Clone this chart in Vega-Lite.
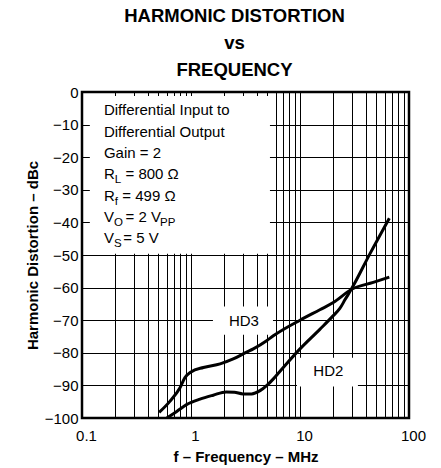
{
  "$schema": "https://vega.github.io/schema/vega-lite/v6.json",
  "width": 327,
  "height": 326,
  "autosize": {"type": "none"},
  "padding": {"left": 82, "top": 92, "right": 32, "bottom": 50},
  "background": "white",
  "config": {
    "font": "Liberation Sans",
    "view": {"stroke": "#000", "strokeWidth": 2.5},
    "axis": {
      "grid": true, "gridColor": "#000", "gridOpacity": 1, "gridWidth": 1,
      "domain": false, "ticks": false,
      "labelFont": "Liberation Sans", "labelFontSize": 15, "labelColor": "#000",
      "titleFont": "Liberation Sans", "titleFontSize": 15, "titleFontWeight": "bold", "titleColor": "#000"
    }
  },
  "title": {
    "text": ["HARMONIC DISTORTION", "vs", "FREQUENCY"],
    "font": "Liberation Sans", "fontSize": 18.5, "fontWeight": "bold", "lineHeight": 27,
    "color": "#000", "anchor": "middle", "offset": 6, "dx": -11
  },
  "datasets": {
    "curves": [
      {"series": "HD3", "f": 0.51, "db": -98.3},
      {"series": "HD3", "f": 0.64, "db": -94.9},
      {"series": "HD3", "f": 0.79, "db": -90.8},
      {"series": "HD3", "f": 0.88, "db": -87.6},
      {"series": "HD3", "f": 1.0, "db": -85.9},
      {"series": "HD3", "f": 1.3, "db": -84.5},
      {"series": "HD3", "f": 1.85, "db": -83.4},
      {"series": "HD3", "f": 2.44, "db": -81.9},
      {"series": "HD3", "f": 3.24, "db": -79.8},
      {"series": "HD3", "f": 3.73, "db": -78.8},
      {"series": "HD3", "f": 4.94, "db": -76.3},
      {"series": "HD3", "f": 5.69, "db": -74.8},
      {"series": "HD3", "f": 10, "db": -70.0},
      {"series": "HD3", "f": 15.2, "db": -66.8},
      {"series": "HD3", "f": 20.2, "db": -64.6},
      {"series": "HD3", "f": 29.8, "db": -60.5},
      {"series": "HD3", "f": 47, "db": -58.4},
      {"series": "HD3", "f": 66, "db": -56.8},
      {"series": "HD2", "f": 0.6, "db": -100},
      {"series": "HD2", "f": 0.74, "db": -98.0},
      {"series": "HD2", "f": 0.91, "db": -95.9},
      {"series": "HD2", "f": 1.21, "db": -94.2},
      {"series": "HD2", "f": 1.6, "db": -93.0},
      {"series": "HD2", "f": 2.1, "db": -92.0},
      {"series": "HD2", "f": 2.5, "db": -92.1},
      {"series": "HD2", "f": 3.0, "db": -92.6},
      {"series": "HD2", "f": 3.6, "db": -92.6},
      {"series": "HD2", "f": 4.3, "db": -91.6},
      {"series": "HD2", "f": 5.0, "db": -89.9},
      {"series": "HD2", "f": 5.7, "db": -88.0},
      {"series": "HD2", "f": 6.5, "db": -85.8},
      {"series": "HD2", "f": 7.6, "db": -83.2},
      {"series": "HD2", "f": 10, "db": -78.8},
      {"series": "HD2", "f": 15.2, "db": -72.8},
      {"series": "HD2", "f": 20.2, "db": -68.6},
      {"series": "HD2", "f": 23.2, "db": -66.4},
      {"series": "HD2", "f": 26, "db": -63.6},
      {"series": "HD2", "f": 29.8, "db": -60.3},
      {"series": "HD2", "f": 44, "db": -49.5},
      {"series": "HD2", "f": 66, "db": -38.7}
    ],
    "boxes": [
      {"f": 0.118, "f2": 5.3, "db": -1.2, "db2": -49.6},
      {"f": 1.59, "f2": 5.65, "db": -65.8, "db2": -74.5},
      {"f": 9.38, "f2": 34, "db": -81.5, "db2": -90.3}
    ],
    "notes": [
      {"f": 0.159, "db": -7.2, "t": "Differential Input to"},
      {"f": 0.159, "db": -13.7, "t": "Differential Output"},
      {"f": 0.159, "db": -20.2, "t": "Gain = 2"},
      {"f": 0.159, "db": -26.75, "t": "R"},
      {"f": 0.2506, "db": -26.75, "t": "= 800 Ω"},
      {"f": 0.159, "db": -33.3, "t": "R"},
      {"f": 0.2344, "db": -33.3, "t": "= 499 Ω"},
      {"f": 0.159, "db": -39.8, "t": "V"},
      {"f": 0.2506, "db": -39.8, "t": "= 2 V"},
      {"f": 0.159, "db": -46.3, "t": "V"},
      {"f": 0.2393, "db": -46.3, "t": "= 5 V"}
    ],
    "subs": [
      {"f": 0.2, "db": -26.75, "t": "L"},
      {"f": 0.2, "db": -33.3, "t": "f"},
      {"f": 0.1966, "db": -39.8, "t": "O"},
      {"f": 0.52, "db": -39.8, "t": "PP"},
      {"f": 0.1966, "db": -46.3, "t": "S"}
    ],
    "labels": [
      {"f": 3.06, "db": -70.1, "t": "HD3"},
      {"f": 18.2, "db": -85.5, "t": "HD2"}
    ]
  },
  "encoding": {
    "x": {
      "field": "f", "type": "quantitative", "title": "f – Frequency – MHz",
      "scale": {"type": "log", "domain": [0.1, 100], "nice": false},
      "axis": {
        "values": [0.1, 0.2, 0.3, 0.4, 0.5, 0.6, 0.7, 0.8, 0.9, 1, 2, 3, 4, 5, 6, 7, 8, 9, 10, 20, 30, 40, 50, 60, 70, 80, 90, 100],
        "labelExpr": "indexof([0.1, 1, 10, 100], datum.value) >= 0 ? format(datum.value, '~g') : ''",
        "labelOverlap": false, "labelFlush": false, "labelOffset": 4,
        "labelPadding": 10, "titlePadding": 6
      }
    },
    "y": {
      "field": "db", "type": "quantitative", "title": "Harmonic Distortion – dBc",
      "scale": {"domain": [-100, 0], "nice": false},
      "axis": {
        "values": [-100, -90, -80, -70, -60, -50, -40, -30, -20, -10, 0],
        "labelExpr": "format(datum.value, 'd')",
        "labelPadding": 4, "titlePadding": 4, "labelOverlap": false, "labelFlush": false
      }
    }
  },
  "layer": [
    {
      "data": {"name": "boxes"},
      "mark": {"type": "rect", "fill": "white", "strokeWidth": 0},
      "encoding": {
        "x2": {"field": "f2"},
        "y2": {"field": "db2"}
      }
    },
    {
      "data": {"name": "curves"},
      "mark": {"type": "line", "color": "#000", "strokeWidth": 3, "interpolate": "monotone", "clip": true},
      "encoding": {
        "detail": {"field": "series"}
      }
    },
    {
      "data": {"name": "notes"},
      "mark": {"type": "text", "align": "left", "baseline": "alphabetic", "fontSize": 15, "color": "#000", "font": "Liberation Sans"},
      "encoding": {
        "text": {"field": "t"}
      }
    },
    {
      "data": {"name": "subs"},
      "mark": {"type": "text", "align": "left", "baseline": "alphabetic", "fontSize": 11.5, "dy": 4, "color": "#000", "font": "Liberation Sans"},
      "encoding": {
        "text": {"field": "t"}
      }
    },
    {
      "data": {"name": "labels"},
      "mark": {"type": "text", "align": "center", "baseline": "middle", "fontSize": 15, "color": "#000", "font": "Liberation Sans"},
      "encoding": {
        "text": {"field": "t"}
      }
    }
  ]
}
